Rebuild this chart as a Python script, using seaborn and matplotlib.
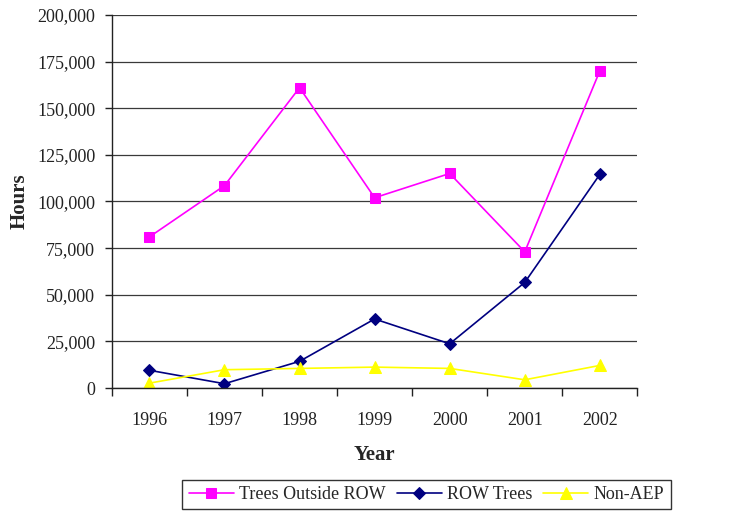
import numpy as np
import pandas as pd
import matplotlib
matplotlib.use("Agg")
import matplotlib.pyplot as plt
from matplotlib.ticker import FuncFormatter, FixedLocator
import seaborn as sns

# data
years = ["1996", "1997", "1998", "1999", "2000", "2001", "2002"]
trees_outside_row = [81000, 108500, 161000, 102000, 115000, 73000, 170000]
row_trees = [9500, 2300, 14300, 37000, 23700, 56600, 114500]
non_aep = [2600, 9800, 10500, 11200, 10500, 4400, 12100]

series_names = ["Trees Outside ROW", "ROW Trees", "Non-AEP"]
series_vals = [trees_outside_row, row_trees, non_aep]
colors = ["#FF00FF", "#000080", "#FFFF00"]
markers = ["s", "D", "^"]
msizes = [7.5, 6.5, 8.5]

sns.set_style("white")
plt.rcParams["font.family"] = ["Liberation Serif", "DejaVu Serif"]

fig = plt.figure(figsize=(7.36, 5.15), dpi=100)
ax = fig.add_axes([0.152, 0.2466, 0.714, 0.7244])

pos = np.arange(len(years))
for name, vals, c, m, ms in zip(series_names, series_vals, colors, markers, msizes):
    sns.lineplot(x=pos, y=vals, color=c, marker=m, markersize=ms,
                 markeredgecolor=c, linewidth=1.2, label=name, ax=ax)

ax.set_xlim(-0.5, len(years) - 0.5)
ax.set_ylim(0, 200000)
ax.yaxis.set_major_locator(FixedLocator(np.arange(0, 200001, 25000)))
ax.yaxis.set_major_formatter(FuncFormatter(lambda v, p: f"{int(v):,}"))
ax.set_xticks(pos)
ax.set_xticklabels(years)
ax.xaxis.set_minor_locator(FixedLocator(np.arange(-0.5, len(years), 1.0)))

ax.grid(axis="y", color="#3a3a3a", linewidth=0.9)
ax.set_axisbelow(True)
for s in ["top", "right"]:
    ax.spines[s].set_visible(False)
for s in ["left", "bottom"]:
    ax.spines[s].set_color("#222222")
    ax.spines[s].set_linewidth(1.0)

ax.tick_params(axis="y", which="major", direction="out", length=5, width=1,
               color="#222222", pad=7, labelsize=13, labelcolor="#222222")
ax.tick_params(axis="x", which="major", length=0, pad=17, labelsize=13,
               labelcolor="#222222")
ax.tick_params(axis="x", which="minor", direction="out", length=6, width=1,
               color="#222222")
ax.yaxis.set_ticks_position("left")
ax.xaxis.set_ticks_position("bottom")

ax.set_xlabel("Year", fontsize=15, fontweight="bold", labelpad=12)
ax.set_ylabel("Hours", fontsize=15, fontweight="bold", labelpad=5)

handles, labels = ax.get_legend_handles_labels()
leg = fig.legend(handles, labels, loc="center", bbox_to_anchor=(0.5795, 0.040),
                 ncol=3, frameon=True, fancybox=False, fontsize=13,
                 handlelength=2.5, handletextpad=0.3, columnspacing=0.6,
                 borderpad=0.35)
leg.get_frame().set_edgecolor("black")
leg.get_frame().set_linewidth(1.0)
if ax.get_legend():
    ax.get_legend().remove()

fig.savefig("out.png", dpi=100)
